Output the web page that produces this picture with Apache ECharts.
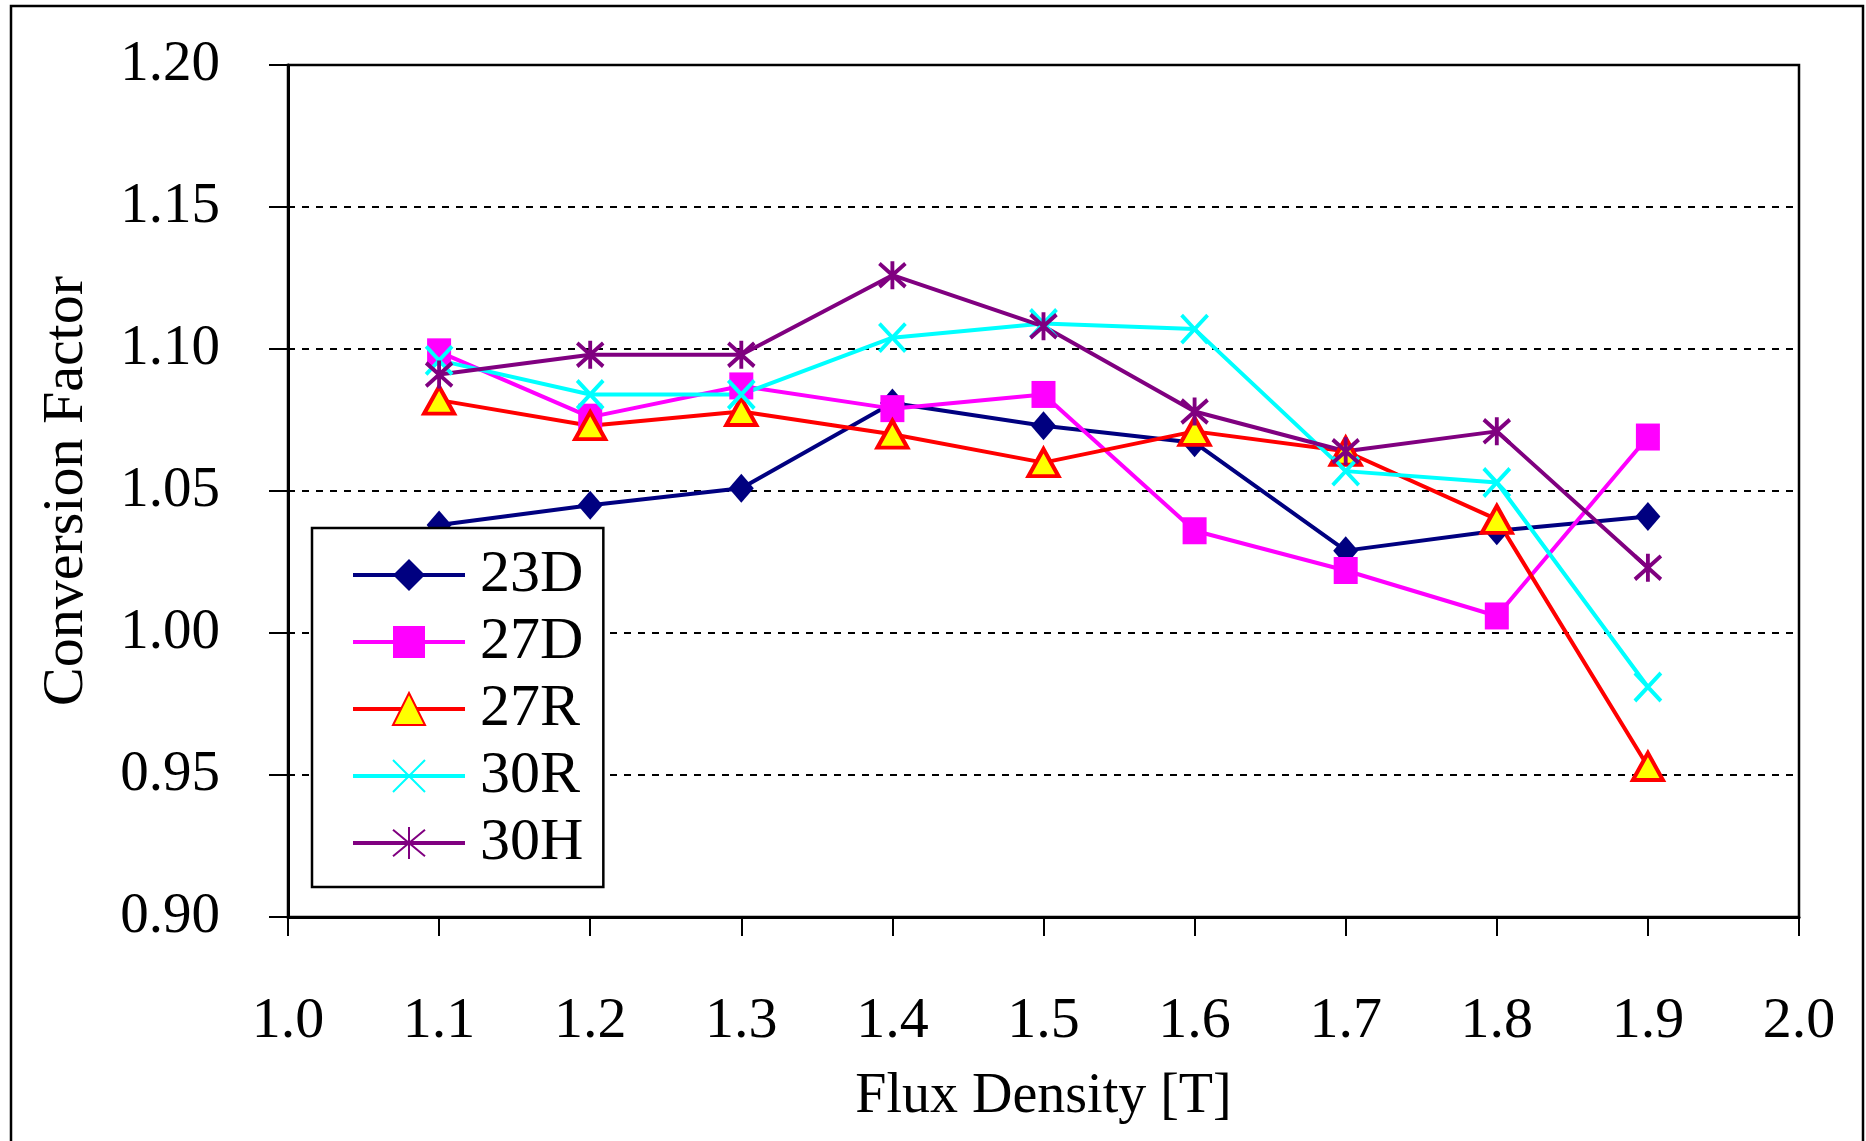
<!DOCTYPE html>
<html>
<head>
<meta charset="utf-8">
<script src="https://cdn.jsdelivr.net/npm/echarts@6/dist/echarts.min.js"></script>
<style>
  html, body { margin: 0; padding: 0; background: #fff; }
  #chart { width: 1866px; height: 1141px; }
</style>
</head>
<body>
<div id="chart"></div>
<script>
// flux density [T]
const fluxDensity = [1.1, 1.2, 1.3, 1.4, 1.5, 1.6, 1.7, 1.8, 1.9]
// conversion factors
const cf23D = [1.038, 1.045, 1.051, 1.081, 1.073, 1.067, 1.029, 1.036, 1.041]
const cf27D = [1.099, 1.076, 1.087, 1.079, 1.084, 1.036, 1.022, 1.006, 1.069]
const cf27R = [1.082, 1.073, 1.078, 1.070, 1.060, 1.071, 1.064, 1.040, 0.953]
const cf30R = [1.096, 1.084, 1.084, 1.104, 1.109, 1.107, 1.057, 1.053, 0.981]
const cf30H = [1.091, 1.098, 1.098, 1.126, 1.108, 1.078, 1.064, 1.071, 1.023]

const font = "'Liberation Serif', 'Times New Roman', serif"
const crossPath = 'path://M0,0L10,10M10,0L0,10'
const starPath = 'path://M0,0L10,10M10,0L0,10M5,-1L5,11'

const pairs = (ys) => fluxDensity.map((x, i) => [x, ys[i]])

function lineSeries(name, ys, color, symbol, size, itemStyle) {
  return {
    name: name,
    type: 'line',
    data: pairs(ys),
    symbol: symbol,
    symbolSize: size,
    lineStyle: { color: color, width: 4 },
    itemStyle: itemStyle,
    emphasis: { disabled: true },
    animation: false
  }
}

const chart = echarts.init(document.getElementById('chart'))
chart.setOption({
  backgroundColor: '#fff',
  textStyle: { fontFamily: font, color: '#000' },
  graphic: [{
    type: 'rect',
    shape: { x: 11, y: 6, width: 1852, height: 1160 },
    style: { fill: 'none', stroke: '#000', lineWidth: 2.5 },
    z: 100
  }],
  grid: {
    left: 288, right: 67, top: 65, bottom: 224,
    show: true, borderColor: '#000', borderWidth: 2.5
  },
  legend: {
    orient: 'vertical',
    left: 312, top: 528,
    backgroundColor: '#fff',
    borderColor: '#000', borderWidth: 2.5,
    padding: [17, 20, 14, 39],
    itemWidth: 112, itemHeight: 40, itemGap: 7,
    lineStyle: { width: 4 },
    textStyle: { fontFamily: font, fontSize: 60, color: '#000', lineHeight: 60, padding: [0, 0, 0, 10] },
    data: ['23D', '27D', '27R', '30R', '30H']
  },
  xAxis: {
    type: 'value',
    min: 1.0, max: 2.0, interval: 0.1,
    name: 'Flux Density [T]',
    nameLocation: 'middle', nameGap: 152,
    nameTextStyle: { fontFamily: font, fontSize: 56, color: '#000' },
    axisLine: { lineStyle: { color: '#000', width: 3 } },
    axisTick: { length: 19, lineStyle: { color: '#000', width: 2 } },
    axisLabel: { fontFamily: font, fontSize: 58, color: '#000', margin: 76, formatter: (v) => v.toFixed(1) },
    splitLine: { show: false }
  },
  yAxis: {
    type: 'value',
    min: 0.9, max: 1.2, interval: 0.05,
    name: 'Conversion Factor',
    nameLocation: 'middle', nameGap: 192,
    nameTextStyle: { fontFamily: font, fontSize: 58, color: '#000' },
    axisLine: { show: true, lineStyle: { color: '#000', width: 3 } },
    axisTick: { show: true, length: 19, lineStyle: { color: '#000', width: 2 } },
    axisLabel: { fontFamily: font, fontSize: 57, color: '#000', margin: 68, formatter: (v) => v.toFixed(2) },
    splitLine: { show: true, lineStyle: { color: '#000', width: 2, type: [7, 7] } }
  },
  series: [
    lineSeries('23D', cf23D, '#000080', 'diamond', [25, 29], { color: '#000080' }),
    lineSeries('27D', cf27D, '#FF00FF', 'rect', [24, 27], { color: '#FF00FF' }),
    lineSeries('27R', cf27R, '#FF0000', 'triangle', [30, 27], { color: '#FFFF00', borderColor: '#FF0000', borderWidth: 4 }),
    lineSeries('30R', cf30R, '#00FFFF', crossPath, [26, 28], { color: 'transparent', borderColor: '#00FFFF', borderWidth: 4 }),
    lineSeries('30H', cf30H, '#800080', starPath, [26, 28], { color: 'transparent', borderColor: '#800080', borderWidth: 4 })
  ]
})
</script>
</body>
</html>
